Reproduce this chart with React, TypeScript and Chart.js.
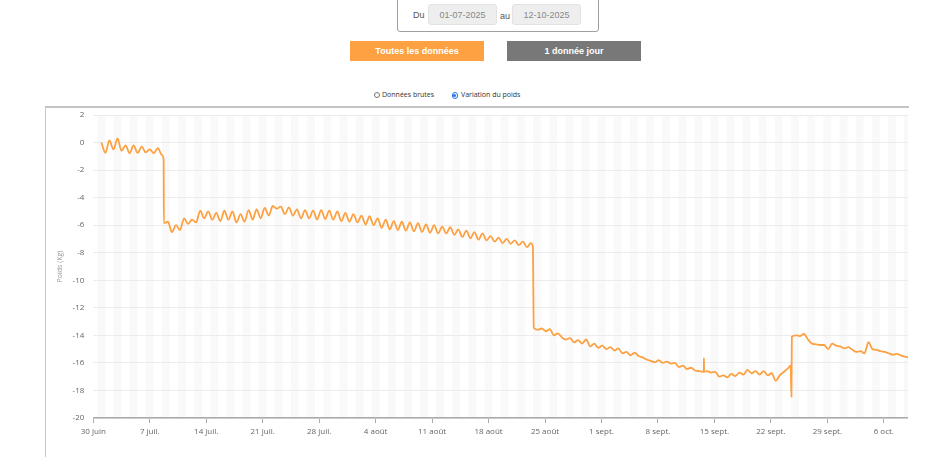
import React, { useEffect, useRef } from "react";
import { Chart, registerables } from "chart.js";
Chart.register(...registerables);

// ---- Data ----
const weekLabels = [
  "30 juin", "7 juil.", "14 juil.", "21 juil.", "28 juil.", "4 août", "11 août",
  "18 août", "25 août", "1 sept.", "8 sept.", "15 sept.", "22 sept.", "29 sept.", "6 oct.",
];
const daysPerWeek = 7;
const xMaxDay = 101; // days after 30 juin
const yMin = -20;
const yMax = 2;
const yStep = 2;
const stepDays = 0.5;

// Jul 1 -> Jul 8
const segJulyStart = 1;
const segJuly = [0.0, -0.75, 0.15, -0.5, 0.3, -0.6, -0.2, -0.78, -0.2, -0.75, -0.3, -0.72, -0.5, -0.78, -0.4, -0.9];

// Jul 8 -> Aug 23
const segSummerStart = 8.75;
const segSummer = [
  -5.85, -5.75, -6.5, -6.0, -6.35, -5.5, -5.9, -5.6, -5.8, -4.95,
  -5.5, -5.0, -5.6, -5.1, -5.7, -4.95, -5.6, -5.0, -5.8, -5.2,
  -5.75, -4.9, -5.6, -4.85, -5.5, -4.75, -5.3, -4.6, -4.8, -4.65,
  -5.2, -4.7, -5.3, -4.85, -5.5, -4.9, -5.5, -4.95, -5.6, -4.9,
  -5.55, -4.95, -5.6, -5.0, -5.7, -5.1, -5.75, -5.2, -5.8, -5.3,
  -5.95, -5.35, -6.0, -5.5, -6.2, -5.6, -6.3, -5.7, -6.35, -5.75,
  -6.4, -5.8, -6.45, -5.85, -6.5, -5.95, -6.55, -6.0, -6.6, -6.1,
  -6.6, -6.15, -6.7, -6.3, -6.85, -6.4, -6.95, -6.5, -7.05, -6.6,
  -7.1, -6.8, -7.2, -6.9, -7.3, -7.0, -7.35, -7.1, -7.45, -7.2,
  -7.6, -7.3,
];

// Aug 23 -> Sep 24
const segAutumnStart = 54.6;
const segAutumn = [
  -13.45, -13.6, -13.5, -13.7, -13.55, -14.0, -13.85, -14.15, -14.3, -14.2,
  -14.5, -14.35, -14.6, -14.3, -14.8, -14.6, -14.9, -14.75, -15.0, -14.85,
  -15.1, -14.95, -15.3, -15.2, -15.45, -15.25, -15.5, -15.6, -15.75, -15.85,
  -15.95, -15.8, -16.0, -15.9, -16.05, -16.0, -16.3, -16.2, -16.45, -16.35,
  -16.55, -16.6, -16.65, -16.6, -16.7, -16.65, -17.0, -16.9, -17.05, -16.8,
  -16.95, -16.7, -16.85, -16.5, -16.75, -16.6, -16.85, -16.6, -16.9, -16.75,
  -17.3, -16.9, -16.65, -16.4,
];

// Sep 24 -> Oct 9
const segOctStart = 86.6;
const segOct = [
  -14.1, -14.0, -14.05, -13.9, -14.3, -14.6, -14.65, -14.7, -14.7, -15.0,
  -14.6, -14.75, -14.8, -14.95, -14.85, -15.05, -15.2, -15.15, -15.3, -14.5,
  -15.0, -15.05, -15.15, -15.2, -15.3, -15.4, -15.35, -15.45, -15.55, -15.6,
];

// single readings (jumps and spikes): [day, kg]
const extraReadings: [number, number][] = [
  [8.72, -1.3],
  [54.5, -7.6],
  [75.68, -16.65],
  [75.7, -15.65],
  [75.72, -16.65],
  [86.45, -16.2],
  [86.55, -18.45],
];

const segments = [
  { start: segJulyStart, values: segJuly },
  { start: segSummerStart, values: segSummer },
  { start: segAutumnStart, values: segAutumn },
  { start: segOctStart, values: segOct },
];

function buildPoints() {
  const pts: { x: number; y: number }[] = [];
  segments.forEach((s) => s.values.forEach((v, i) => pts.push({ x: s.start + i * stepDays, y: v })));
  extraReadings.forEach(([d, v]) => pts.push({ x: d, y: v }));
  pts.sort((a, b) => a.x - b.x);
  return pts;
}

const stripesPlugin = {
  id: "dayStripes",
  beforeDraw(chart: any) {
    const { ctx, chartArea, scales } = chart;
    const x = scales.x;
    ctx.save();
    ctx.beginPath();
    ctx.rect(chartArea.left, chartArea.top, chartArea.right - chartArea.left, chartArea.bottom - chartArea.top);
    ctx.clip();
    ctx.fillStyle = "rgba(0,0,0,0.025)";
    for (let d = 0; d <= xMaxDay + 1; d += 2) {
      const x0 = x.getPixelForValue(d + 0.5);
      const x1 = x.getPixelForValue(d + 1.5);
      ctx.fillRect(x0, chartArea.top, x1 - x0, chartArea.bottom - chartArea.top);
    }
    ctx.restore();
  },
};

const ORANGE = "#fda040";

export default function App() {
  const ref = useRef<HTMLCanvasElement>(null);
  useEffect(() => {
    if (!ref.current) return;
    const chart = new Chart(ref.current, {
      type: "line",
      data: {
        datasets: [
          {
            label: "Variation du poids",
            data: buildPoints(),
            borderColor: ORANGE,
            backgroundColor: ORANGE,
            borderWidth: 1.8,
            pointRadius: 0,
            cubicInterpolationMode: "monotone",
          },
        ],
      },
      options: {
        animation: false,
        responsive: false,
        events: [],
        font: { family: "'Open Sans'" },
        layout: { padding: 0 },
        plugins: { legend: { display: false }, tooltip: { enabled: false } },
        scales: {
          x: {
            type: "linear",
            min: 0,
            max: xMaxDay,
            afterFit: (s: any) => { s.height = 70; },
            afterBuildTicks: (s: any) => {
              s.ticks = weekLabels.map((_, i) => ({ value: i * daysPerWeek }));
            },
            ticks: {
              autoSkip: false,
              maxRotation: 0,
              padding: 4,
              color: "#666",
              font: { family: "'Open Sans'", size: 8 },
              callback: (_v: any, i: number) => weekLabels[i],
            },
            grid: { display: true, drawOnChartArea: false, drawTicks: true, tickLength: 5, color: "#aaa" },
            border: { display: true, color: "#aaa", width: 1.5 },
            title: {
              display: true,
              text: "Date",
              color: "#aaa",
              font: { family: "'Open Sans'", size: 8 },
              padding: { top: 0, bottom: 23 },
            },
          },
          y: {
            min: yMin,
            max: yMax,
            afterFit: (s: any) => { s.width = 47.3; s.paddingTop = 7; s.paddingBottom = 0; },
            ticks: {
              stepSize: yStep,
              padding: 9,
              color: "#666",
              font: { family: "'Open Sans'", size: 8 },
            },
            grid: { color: "#ececec", drawTicks: false },
            border: { display: false },
            title: {
              display: true,
              text: "Poids (Kg)",
              color: "#999",
              font: { family: "'Open Sans'", size: 7 },
              padding: { top: 10, bottom: 0 },
            },
          },
        },
      },
      plugins: [stripesPlugin],
    } as any);
    return () => chart.destroy();
  }, []);

  const abs = (o: React.CSSProperties): React.CSSProperties => ({ position: "absolute", boxSizing: "border-box", ...o });
  const inputStyle = (left: number): React.CSSProperties =>
    abs({
      left, top: 4, width: 69, height: 21, background: "#eeeeee", border: "1px solid #e2e2e2", borderRadius: 3,
      display: "flex", alignItems: "center", justifyContent: "center",
      fontFamily: "'Liberation Sans', Arial, sans-serif", fontSize: 9, color: "#888",
    });
  const btn = (left: number, bg: string): React.CSSProperties =>
    abs({
      left, top: 41, width: 134, height: 20, background: bg, display: "flex", alignItems: "center", justifyContent: "center",
      fontFamily: "'Liberation Sans', Arial, sans-serif", fontSize: 9, fontWeight: 700, color: "#fff",
    });
  const legendText: React.CSSProperties = { fontFamily: "'Open Sans', sans-serif", fontSize: 7, color: "#333", whiteSpace: "nowrap" };

  return (
    <div style={{ position: "fixed", inset: 0, overflow: "hidden", background: "#fff" }}>
      {/* date range form */}
      <div style={abs({ left: 397, top: -20, width: 202, height: 52, border: "1.5px solid #a0a0a0", borderRadius: 3 })} />
      <div style={abs({ left: 413, top: 10, fontFamily: "'Liberation Sans', Arial, sans-serif", fontSize: 9, color: "#555" })}>Du</div>
      <div style={inputStyle(428)}>01-07-2025</div>
      <div style={abs({ left: 500, top: 11, fontFamily: "'Liberation Sans', Arial, sans-serif", fontSize: 9, color: "#555" })}>au</div>
      <div style={inputStyle(512)}>12-10-2025</div>

      {/* buttons */}
      <div style={btn(350, "#fea142")}>Toutes les données</div>
      <div style={btn(507, "#787878")}>1 donnée jour</div>

      {/* radio legend */}
      <div style={abs({ left: 374, top: 92, width: 6, height: 6, borderRadius: "50%", border: "1px solid #777", background: "#fff" })} />
      <div style={abs({ left: 382, top: 89.5, ...legendText })}>Données brutes</div>
      <div style={abs({ left: 451.5, top: 92, width: 6.5, height: 6.5, borderRadius: "50%", border: "1px solid #1a73e8", background: "#fff" })} />
      <div style={abs({ left: 453.2, top: 93.7, width: 3.2, height: 3.2, borderRadius: "50%", background: "#1a73e8" })} />
      <div style={abs({ left: 461, top: 89.5, ...legendText })}>Variation du poids</div>

      {/* chart container */}
      <div style={abs({ left: 44.5, top: 106, width: 864.5, height: 400, borderTop: "2px solid #c4c4c4", borderLeft: "1.5px solid #c8c8c8" })} />
      <canvas ref={ref} width={862} height={380} style={{ position: "absolute", left: 46, top: 108, width: 862, height: 380 }} />
    </div>
  );
}
